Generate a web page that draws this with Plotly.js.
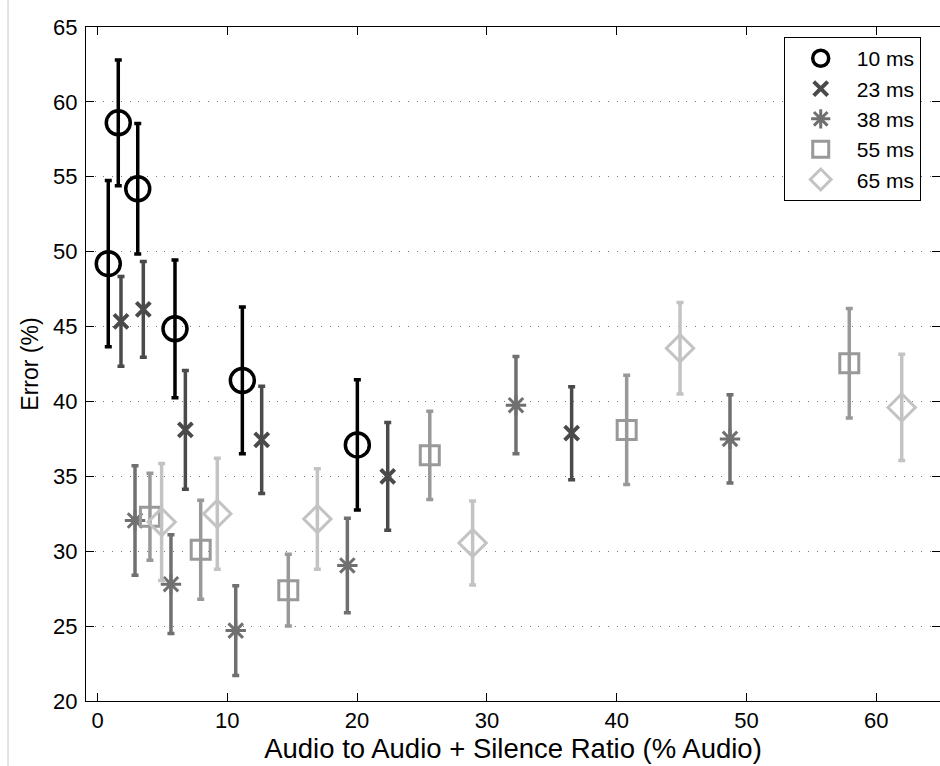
<!DOCTYPE html>
<html>
<head>
<meta charset="utf-8">
<script src="https://cdn.plot.ly/plotly-3.0.1.min.js"></script>
<style>html,body{margin:0;padding:0;background:#fff;}#chart{width:940px;height:766px;}</style>
</head>
<body>
<div id="chart"></div>
<script>
// ---- data ----
var seriesNames = ['10 ms', '23 ms', '38 ms', '55 ms', '65 ms'];

var x10 = [0.83, 1.6, 3.1, 5.97, 11.16, 20.02];
var y10 = [49.2, 58.6, 54.2, 44.85, 41.4, 37.1];
var e10 = [5.55, 4.2, 4.35, 4.6, 4.9, 4.35];

var x23 = [1.81, 3.53, 6.77, 12.65, 22.36, 36.53];
var y23 = [45.35, 46.15, 38.1, 37.43, 35.0, 37.88];
var e23 = [3.0, 3.2, 3.96, 3.58, 3.6, 3.1];

var x38 = [2.89, 5.66, 10.65, 19.25, 32.24, 48.73];
var y38 = [32.05, 27.8, 24.7, 29.05, 39.75, 37.5];
var e38 = [3.65, 3.3, 3.0, 3.15, 3.25, 2.95];

var x55 = [4.04, 7.95, 14.7, 25.6, 40.77, 57.92];
var y55 = [32.3, 30.1, 27.4, 36.4, 38.1, 42.55];
var e55 = [2.9, 3.3, 2.4, 2.95, 3.65, 3.65];

var x65 = [4.94, 9.23, 16.94, 28.9, 44.88, 61.96];
var y65 = [31.95, 32.5, 32.15, 30.55, 43.55, 39.6];
var e65 = [3.9, 3.7, 3.35, 2.8, 3.05, 3.55];

var yTicks = [20, 25, 30, 35, 40, 45, 50, 55, 60, 65];
var xTicks = [0, 10, 20, 30, 40, 50, 60];

// ---- styles ----
var colors = ['#000000', '#4a4a4a', '#707070', '#999999', '#c3c3c3'];
var symbols = ['circle-open', 'x-thin-open', 'asterisk-open', 'square-open', 'diamond-open'];
var sizes = [24, 14, 17, 19, 21];
var lws = [3.5, 4, 3, 3, 3];

var xs = [x10, x23, x38, x55, x65];
var ys = [y10, y23, y38, y55, y65];
var es = [e10, e23, e38, e55, e65];

var traces = [];
for (var i = 0; i < 5; i++) {
  traces.push({
    type: 'scatter',
    mode: 'markers',
    name: seriesNames[i],
    x: xs[i],
    y: ys[i],
    error_y: {type: 'data', array: es[i], symmetric: true, color: colors[i], thickness: 3.5, width: 3.5},
    marker: {symbol: symbols[i], size: sizes[i], color: colors[i], line: {color: colors[i], width: lws[i]}}
  });
}

var font = 'Liberation Sans, Arial, Helvetica, sans-serif';
var layout = {
  width: 940,
  height: 766,
  margin: {l: 86, r: 0, t: 27, b: 65, pad: 0},
  paper_bgcolor: '#ffffff',
  plot_bgcolor: '#ffffff',
  font: {family: font, size: 22, color: '#000'},
  showlegend: true,
  legend: {
    x: 0.817, y: 0.985, xanchor: 'left', yanchor: 'top',
    bgcolor: '#ffffff', bordercolor: '#000', borderwidth: 1,
    font: {family: font, size: 21, color: '#000'},
    itemwidth: 62, itemsizing: 'trace',
    entrywidth: 146, entrywidthmode: 'pixels'
  },
  xaxis: {
    range: [-0.886, 64.91],
    tickvals: xTicks,
    ticktext: xTicks.map(String),
    ticks: 'inside', ticklen: 8, tickwidth: 1, tickcolor: '#000',
    showline: true, linecolor: '#000', linewidth: 1, mirror: 'ticks',
    showgrid: false, zeroline: false,
    tickfont: {family: font, size: 22, color: '#000'},
    title: {text: 'Audio to Audio + Silence Ratio (% Audio)', font: {family: font, size: 27.5, color: '#000'}, standoff: 4}
  },
  yaxis: {
    range: [20, 65],
    tickvals: yTicks,
    ticktext: yTicks.map(String),
    ticks: 'inside', ticklen: 8, tickwidth: 1, tickcolor: '#000',
    showline: true, linecolor: '#000', linewidth: 1, mirror: 'ticks',
    showgrid: true, gridcolor: '#7a7a7a', gridwidth: 1, griddash: '1px,7.7px',
    zeroline: false,
    tickfont: {family: font, size: 22, color: '#000'},
    ticklabelstandoff: 3,
    title: {text: 'Error (%)', font: {family: font, size: 23, color: '#000'}, standoff: 8}
  },
  shapes: [{
    type: 'line', xref: 'paper', yref: 'paper',
    x0: -0.0913, x1: -0.0913, y0: -0.0964, y1: 1.04,
    line: {color: '#c8c8c8', width: 1}
  }]
};

Plotly.newPlot('chart', traces, layout, {displayModeBar: false, staticPlot: true});
</script>
</body>
</html>
